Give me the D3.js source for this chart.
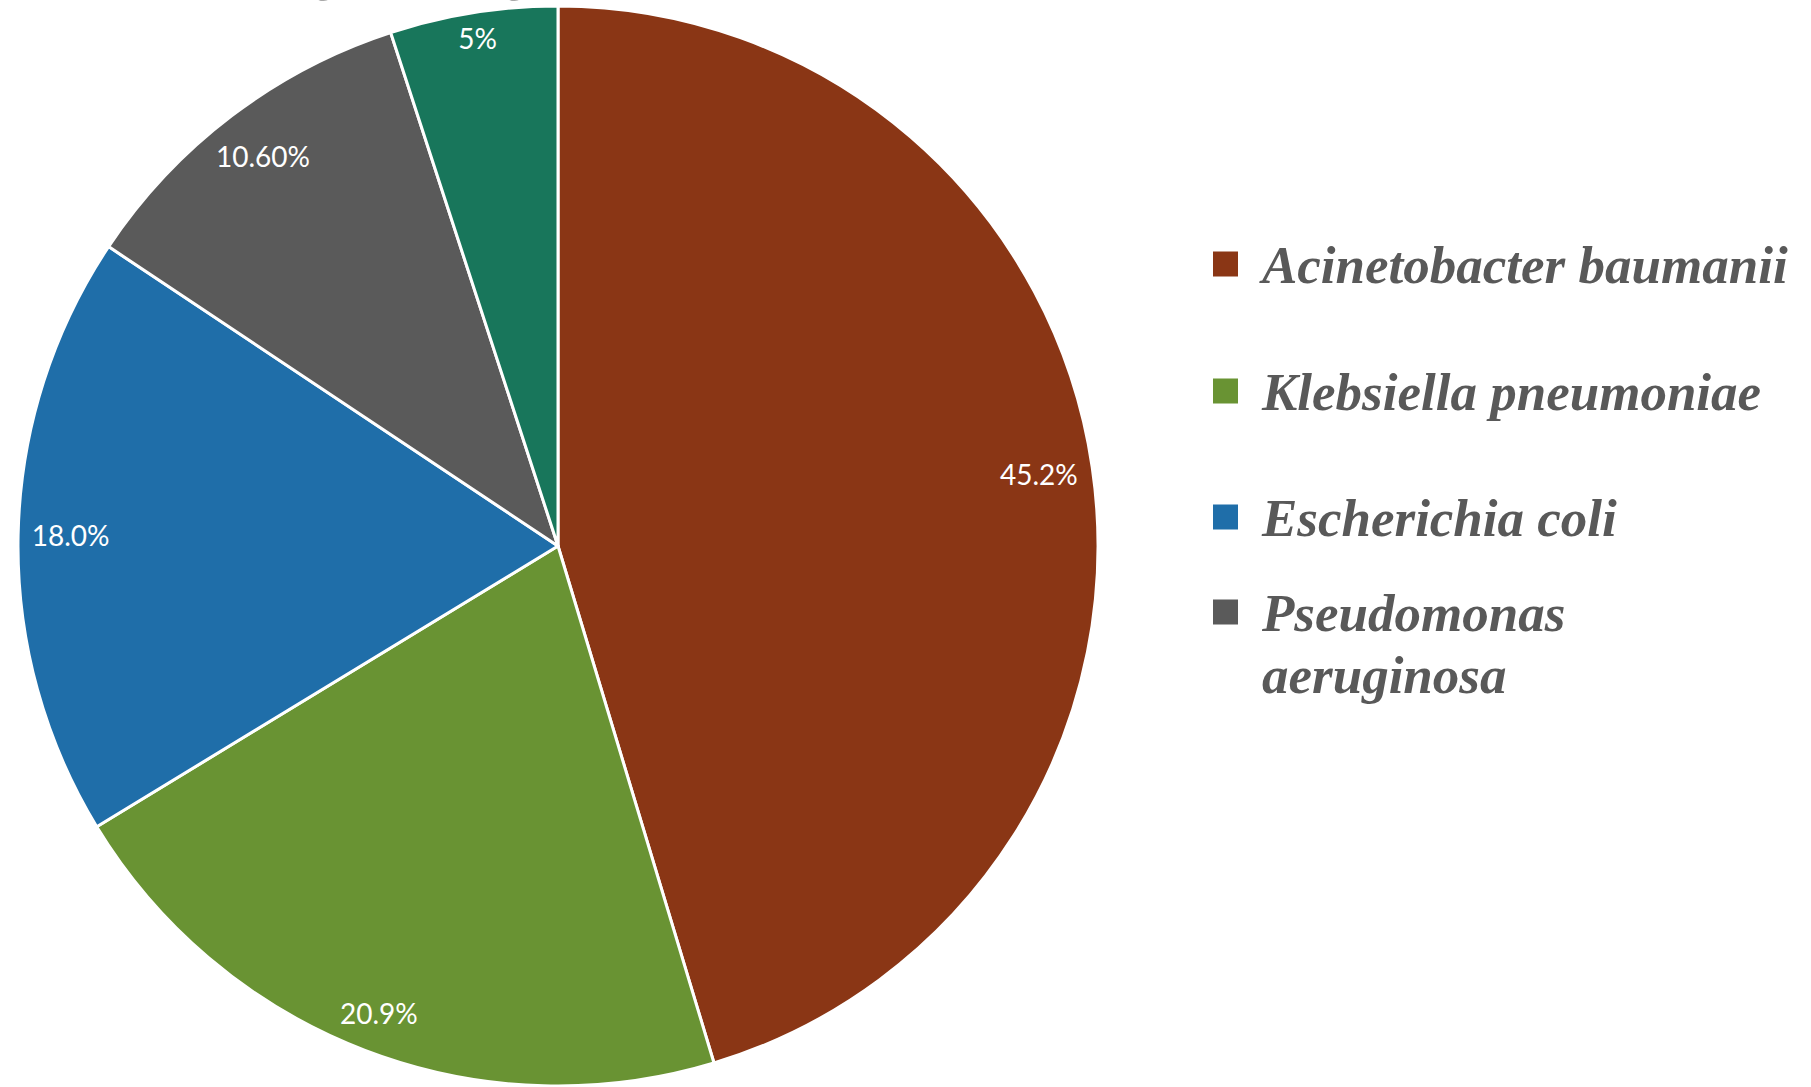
<!DOCTYPE html>
<html>
<head>
<meta charset="utf-8">
<script src="https://cdn.jsdelivr.net/npm/d3@7"></script>
<style>
  html, body { margin: 0; padding: 0; background: #ffffff; }
  svg { display: block; }
</style>
</head>
<body>
<svg id="chart" width="1811" height="1087"></svg>
<script>
// Share of isolated gram negative organisms
const organisms = [
  "Acinetobacter baumanii",
  "Klebsiella pneumoniae",
  "Escherichia coli",
  "Pseudomonas aeruginosa",
  "Other"
];
const shares = [45.2, 20.9, 18.0, 10.6, 5];
const shareLabels = ["45.2%", "20.9%", "18.0%", "10.60%", "5%"];
const sliceColors = ["#8a3615", "#699333", "#1f6ea9", "#5a5a5a", "#18765b"];
const legendLines = [
  ["Acinetobacter baumanii"],
  ["Klebsiella pneumoniae"],
  ["Escherichia coli"],
  ["Pseudomonas", "aeruginosa"]
];
const chartTitle = "Distribution of gram negative bacteria";

const svg = d3.select("#chart");

// Title sits mostly above the visible area
const title = svg.append("text")
  .attr("y", -9.5)
  .attr("font-family", "Lato, sans-serif")
  .attr("font-size", 54)
  .attr("fill", "#595959")
  .text(chartTitle);
const gIndex = chartTitle.indexOf("g");
const pre = title.node().getSubStringLength(0, gIndex);
title.attr("x", 310 - pre);

// Pie
const cx = 558, cy = 546, radius = 540;
const color = d3.scaleOrdinal().domain(organisms).range(sliceColors);

const pie = d3.pie().sort(null).value(d => d.value);
const data = organisms.map((name, i) => ({ name, value: shares[i], label: shareLabels[i] }));
const arcs = pie(data);

const arc = d3.arc().innerRadius(0).outerRadius(radius);

const g = svg.append("g").attr("transform", `translate(${cx},${cy})`);

g.selectAll("path.slice")
  .data(arcs)
  .join("path")
  .attr("class", "slice")
  .attr("d", arc)
  .attr("fill", d => color(d.data.name))
  .attr("stroke", "#ffffff")
  .attr("stroke-width", 3)
  .attr("stroke-linejoin", "round");

// Value labels at the inside end of each slice: slide the label box
// outward along the mid-angle until a corner reaches the rim padding.
const labelSize = 28;
const labelPad = 9;
const labels = g.selectAll("text.value")
  .data(arcs)
  .join("text")
  .attr("class", "value")
  .attr("text-anchor", "middle")
  .attr("dy", "0.35em")
  .attr("font-family", "Lato, sans-serif")
  .attr("font-size", labelSize)
  .attr("fill", "#ffffff")
  .text(d => d.data.label);

labels.each(function(d) {
  const w = this.getComputedTextLength() + 8;
  const h = labelSize;
  const a = (d.startAngle + d.endAngle) / 2;
  const ux = Math.sin(a), uy = -Math.cos(a);
  const limit = radius - labelPad;
  let dist = 0;
  for (let r = 0; r <= radius; r += 0.5) {
    const x = ux * r, y = uy * r;
    const far = Math.max(
      Math.hypot(x - w / 2, y - h / 2), Math.hypot(x + w / 2, y - h / 2),
      Math.hypot(x - w / 2, y + h / 2), Math.hypot(x + w / 2, y + h / 2)
    );
    if (far > limit) break;
    dist = r;
  }
  d3.select(this).attr("transform", `translate(${ux * dist},${uy * dist})`);
});

// Legend
const legendX = 1213;
const rowY = [264, 391, 517, 612];
const legend = svg.append("g");

legendLines.forEach((lines, i) => {
  const row = legend.append("g").attr("transform", `translate(${legendX},${rowY[i]})`);
  row.append("rect")
    .attr("x", 0)
    .attr("y", -12.5)
    .attr("width", 25)
    .attr("height", 25)
    .attr("fill", sliceColors[i]);
  const t = row.append("text")
    .attr("x", 49)
    .attr("y", 19)
    .attr("font-family", "'Liberation Serif', 'Times New Roman', serif")
    .attr("font-style", "italic")
    .attr("font-weight", "bold")
    .attr("font-size", 53)
    .attr("fill", "#595959");
  lines.forEach((line, j) => {
    t.append("tspan")
      .attr("x", 49)
      .attr("dy", j === 0 ? 0 : 62)
      .text(line);
  });
});
</script>
</body>
</html>
